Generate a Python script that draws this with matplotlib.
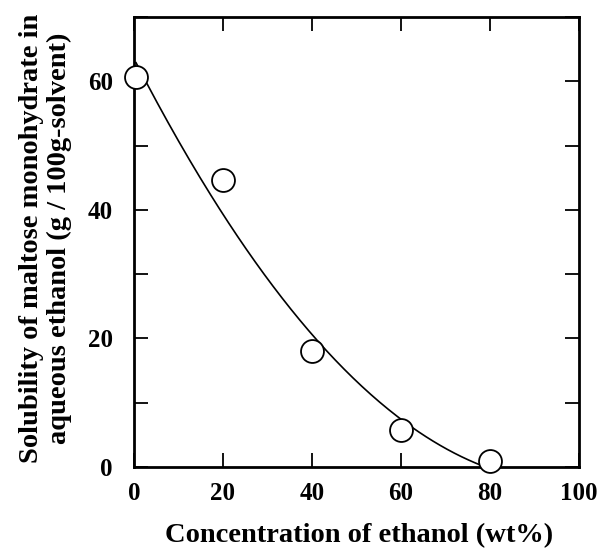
import numpy as np
import matplotlib
matplotlib.use('Agg')
import matplotlib.pyplot as plt
from matplotlib.ticker import MultipleLocator

# measured solubility data
ethanol_wt = [0.5, 20, 40, 60, 80]
solubility = [60.7, 44.6, 18.0, 5.8, 1.0]

plt.rcParams['font.family'] = ['Liberation Serif', 'DejaVu Serif']
plt.rcParams['font.weight'] = 'bold'

fig = plt.figure(figsize=(6, 5.53), dpi=100)
ax = fig.add_axes([0.223, 0.1555, 0.742, 0.8135])

# quadratic fit drawn through the data
coef = np.polyfit(ethanol_wt, solubility, 2)
xfit = np.linspace(ethanol_wt[0], ethanol_wt[-1], 200)
ax.plot(xfit, np.polyval(coef, xfit), color='black', lw=1.2, zorder=2)

ax.plot(ethanol_wt, solubility, 'o', ms=16.5, mfc='white', mec='black',
        mew=1.3, zorder=3, clip_on=False)

ax.set_xlim(0, 100)
ax.set_ylim(0, 70)
ax.xaxis.set_major_locator(MultipleLocator(20))
ax.yaxis.set_major_locator(MultipleLocator(20))
ax.yaxis.set_minor_locator(MultipleLocator(10))

ax.tick_params(which='both', direction='in', top=True, right=True,
               width=1.3, labelsize=18)
ax.tick_params(which='major', length=10)
ax.tick_params(which='minor', length=10)
ax.tick_params(axis='x', pad=11)
ax.tick_params(axis='y', pad=15)
for s in ax.spines.values():
    s.set_linewidth(2)

ax.set_xlabel('Concentration of ethanol (wt%)', fontsize=20.5, fontweight='bold')
ax.set_ylabel('Solubility of maltose monohydrate in\naqueous ethanol (g / 100g-solvent)',
              fontsize=20.5, fontweight='bold', linespacing=1.12)
ax.xaxis.set_label_coords(0.505, -0.125)
ax.yaxis.set_label_coords(-0.139, 0.509)

fig.savefig('out.png', dpi=100)
